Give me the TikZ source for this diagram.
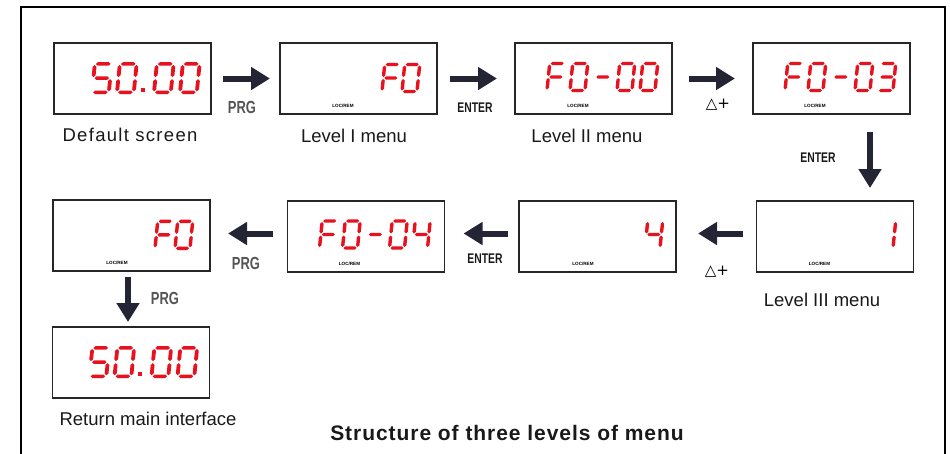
\documentclass[tikz,border=0pt]{standalone}
\usepackage{fontspec}
\setmainfont{Liberation Sans}
\newfontfamily\symfont{DejaVu Sans}
\usetikzlibrary{arrows.meta,calc}
\definecolor{segred}{RGB}{232,18,30}
\definecolor{arrowdark}{RGB}{36,37,52}
\definecolor{keygray}{RGB}{85,85,85}

% one segment of a seven segment digit
\newcommand{\lcdh}[3]{\fill[segred] (#1+1,#3) -- (#1+2.7,#3-1.7) -- (#2-2.7,#3-1.7) -- (#2-1,#3) -- (#2-2.7,#3+1.7) -- (#1+2.7,#3+1.7) -- cycle;}
\newcommand{\lcdv}[3]{\fill[segred] (#1,#2+1) -- (#1+1.7,#2+2.7) -- (#1+1.7,#3-2.7) -- (#1,#3-1) -- (#1-1.7,#3-2.7) -- (#1-1.7,#2+2.7) -- cycle;}
\newcommand{\lcdsega}{\lcdh{0}{15}{-27}}
\newcommand{\lcdsegb}{\lcdv{15}{-27}{-13.5}}
\newcommand{\lcdsegc}{\lcdv{15}{-13.5}{0}}
\newcommand{\lcdsegd}{\lcdh{0}{15}{0}}
\newcommand{\lcdsege}{\lcdv{0}{-13.5}{0}}
\newcommand{\lcdsegf}{\lcdv{0}{-27}{-13.5}}
\newcommand{\lcdsegg}{\lcdh{0}{15}{-13.5}}
% a digit: options, x, y (lower left), segments
\newcommand{\lcd}[4][]{\begin{scope}[shift={(#2,#3)},xslant=0.1,#1]
  \foreach \s in {#4} {\csname lcdseg\s\endcsname}
\end{scope}}

\begin{document}
\begin{tikzpicture}[x=1pt,y=-1pt,
  lcdbox/.style={draw=black!85,line width=1.2pt,minimum width=157pt,minimum height=71pt,inner sep=0pt,outer sep=0pt},
  locrem/.style={font=\fontsize{4.6}{5}\selectfont\bfseries,inner sep=0pt},
  bigarrow/.style={arrowdark,line width=6pt,-{Triangle[length=19pt,width=22pt]}},
  keylbl/.style={font=\fontsize{17.5}{19}\selectfont\bfseries,text=keygray,xscale=0.74,inner sep=0pt},
  entlbl/.style={font=\fontsize{14}{15}\selectfont\bfseries,text=black!90,xscale=0.74,inner sep=0pt},
  symlbl/.style={font=\symfont\fontsize{15}{17}\selectfont,inner sep=0pt},
  capt/.style={font=\fontsize{18.5}{21}\selectfont,text=black!90,inner sep=0pt}]
\useasboundingbox (0,0) rectangle (950,453);
\clip (0,0) rectangle (950,453);
\draw [line width=2.4pt] (21,460) -- (21,7) -- (945,7) -- (945,460);

% first row
\node[lcdbox] (box1) at (132.5,78.5) {};
\node[lcdbox] (box2) at (358.5,78.5) {};
\node[lcdbox] (box3) at (593.5,78.5) {};
\node[lcdbox] (box4) at (831.5,78.5) {};
% second row
\node[lcdbox] (box5) at (835,236.5) {};
\node[lcdbox] (box6) at (597.5,236.5) {};
\node[lcdbox] (box7) at (366,236.5) {};
\node[lcdbox] (box8) at (131.5,235.5) {};
% last one
\node[lcdbox] (box9) at (131,362.5) {};

\begin{scope}[shift={(box1.north west)}]
  \lcd[xscale=1.12,yscale=1.05]{38}{49.3}{a,f,g,c,d}
  \lcd[xscale=1.12,yscale=1.05]{63}{49.3}{a,b,c,d,e,f}
  \fill[segred] (86.5,44.5) rectangle (90.5,48.8);
  \lcd[xscale=1.12,yscale=1.05]{100}{49.3}{a,b,c,d,e,f}
  \lcd[xscale=1.12,yscale=1.05]{126}{49.3}{a,b,c,d,e,f}
\end{scope}
\begin{scope}[shift={(box2.north west)}]
  \lcd{102}{48.5}{a,f,g,e}
  \lcd{122}{48.5}{a,b,c,d,e,f}
  \node[locrem] (lr2) at (63,63) {LOC/REM};
\end{scope}
\begin{scope}[shift={(box3.north west)}]
  \lcd{32}{47.5}{a,f,g,e}
  \lcd{55}{47.5}{a,b,c,d,e,f}
  \lcd{79}{47.5}{g}
  \lcd{102}{47.5}{a,b,c,d,e,f}
  \lcd{125}{47.5}{a,b,c,d,e,f}
  \node[locrem] (lr3) at (63,63) {LOC/REM};
\end{scope}
\begin{scope}[shift={(box4.north west)}]
  \lcd{32}{47.5}{a,f,g,e}
  \lcd{55}{47.5}{a,b,c,d,e,f}
  \lcd{79}{47.5}{g}
  \lcd{102}{47.5}{a,b,c,d,e,f}
  \lcd{125}{47.5}{a,b,g,c,d}
  \node[locrem] (lr4) at (62,63) {LOC/REM};
\end{scope}
\begin{scope}[shift={(box5.north west)}]
  \lcd{121.5}{47}{b,c}
  \node[locrem] (lr5) at (63,63) {LOC/REM};
\end{scope}
\begin{scope}[shift={(box6.north west)}]
  \lcd{126}{47}{f,g,b,c}
  \node[locrem] (lr6) at (64,63) {LOC/REM};
\end{scope}
\begin{scope}[shift={(box7.north west)}]
  \lcd{32}{47}{a,f,g,e}
  \lcd{55}{47}{a,b,c,d,e,f}
  \lcd{79}{47}{g}
  \lcd{102}{47}{a,b,c,d,e,f}
  \lcd{125}{47}{f,g,b,c}
  \node[locrem] (lr7) at (62,63) {LOC/REM};
\end{scope}
\begin{scope}[shift={(box8.north west)}]
  \lcd{102}{48.3}{a,f,g,e}
  \lcd{122}{48.3}{a,b,c,d,e,f}
  \node[locrem] (lr8) at (64,63) {LOC/REM};
\end{scope}
\begin{scope}[shift={(box9.north west)}]
  \lcd[xscale=1.12,yscale=1.05]{37}{49.3}{a,f,g,c,d}
  \lcd[xscale=1.12,yscale=1.05]{62}{49.3}{a,b,c,d,e,f}
  \fill[segred] (85.5,44.5) rectangle (89.5,48.8);
  \lcd[xscale=1.12,yscale=1.05]{99}{49.3}{a,b,c,d,e,f}
  \lcd[xscale=1.12,yscale=1.05]{125}{49.3}{a,b,c,d,e,f}
\end{scope}

% arrows
\draw[bigarrow,shorten <=12pt,shorten >=10pt] (box1) -- (box2);
\draw[bigarrow,shorten <=13pt,shorten >=18pt] (box2) -- (box3);
\draw[bigarrow,shorten <=17pt,shorten >=18pt] (box3) -- (box4);
\coordinate (dtop) at ($(box4.south east)+(-40,0)$);
\draw[bigarrow,shorten <=18pt,shorten >=13pt] (dtop) -- (dtop |- box5.north);
\draw[bigarrow,shorten <=14pt,shorten >=22pt] ([yshift=3pt]box5.west) -- ([yshift=3pt]box6.east);
\draw[bigarrow,shorten <=11pt,shorten >=19pt] ([yshift=3pt]box6.west) -- ([yshift=3pt]box7.east);
\draw[bigarrow,shorten <=15pt,shorten >=18pt] ([yshift=3pt]box7.west) -- ([yshift=3pt]box7.west -| box8.east);
\coordinate (dleft) at ([xshift=-3.5pt]box8.south);
\draw[bigarrow,shorten <=6pt,shorten >=5pt] (dleft) -- (dleft |- box9.north);

% keys
\node[keylbl] (prg1) at (242,107) {PRG};
\node[entlbl] (ent1) at (475,108) {ENTER};
\node[symlbl] (inc1) at (718,105) {△+};
\node[entlbl] (ent2) at (818,158) {ENTER};
\node[symlbl] (inc2) at (717,272) {△+};
\node[entlbl] (ent3) at (485,259) {ENTER};
\node[keylbl] (prg2) at (246,263) {PRG};
\node[keylbl] (prg3) at (165,298) {PRG};

% captions
\node[capt] (cap1) at (130,135) {\addfontfeature{LetterSpace=7}Default screen};
\node[capt] (cap2) at (354,136) {Level I menu};
\node[capt] (cap3) at (587,136) {Level II menu};
\node[capt] (cap5) at (822,300) {Level III menu};
\node[capt] (cap9) at (148,419) {Return main interface};
\node[font=\fontsize{21}{24}\selectfont\bfseries,text=black!90,inner sep=0pt] (title) at (507,433) {\addfontfeature{LetterSpace=4.5}Structure of three levels of menu};
\end{tikzpicture}
\end{document}
